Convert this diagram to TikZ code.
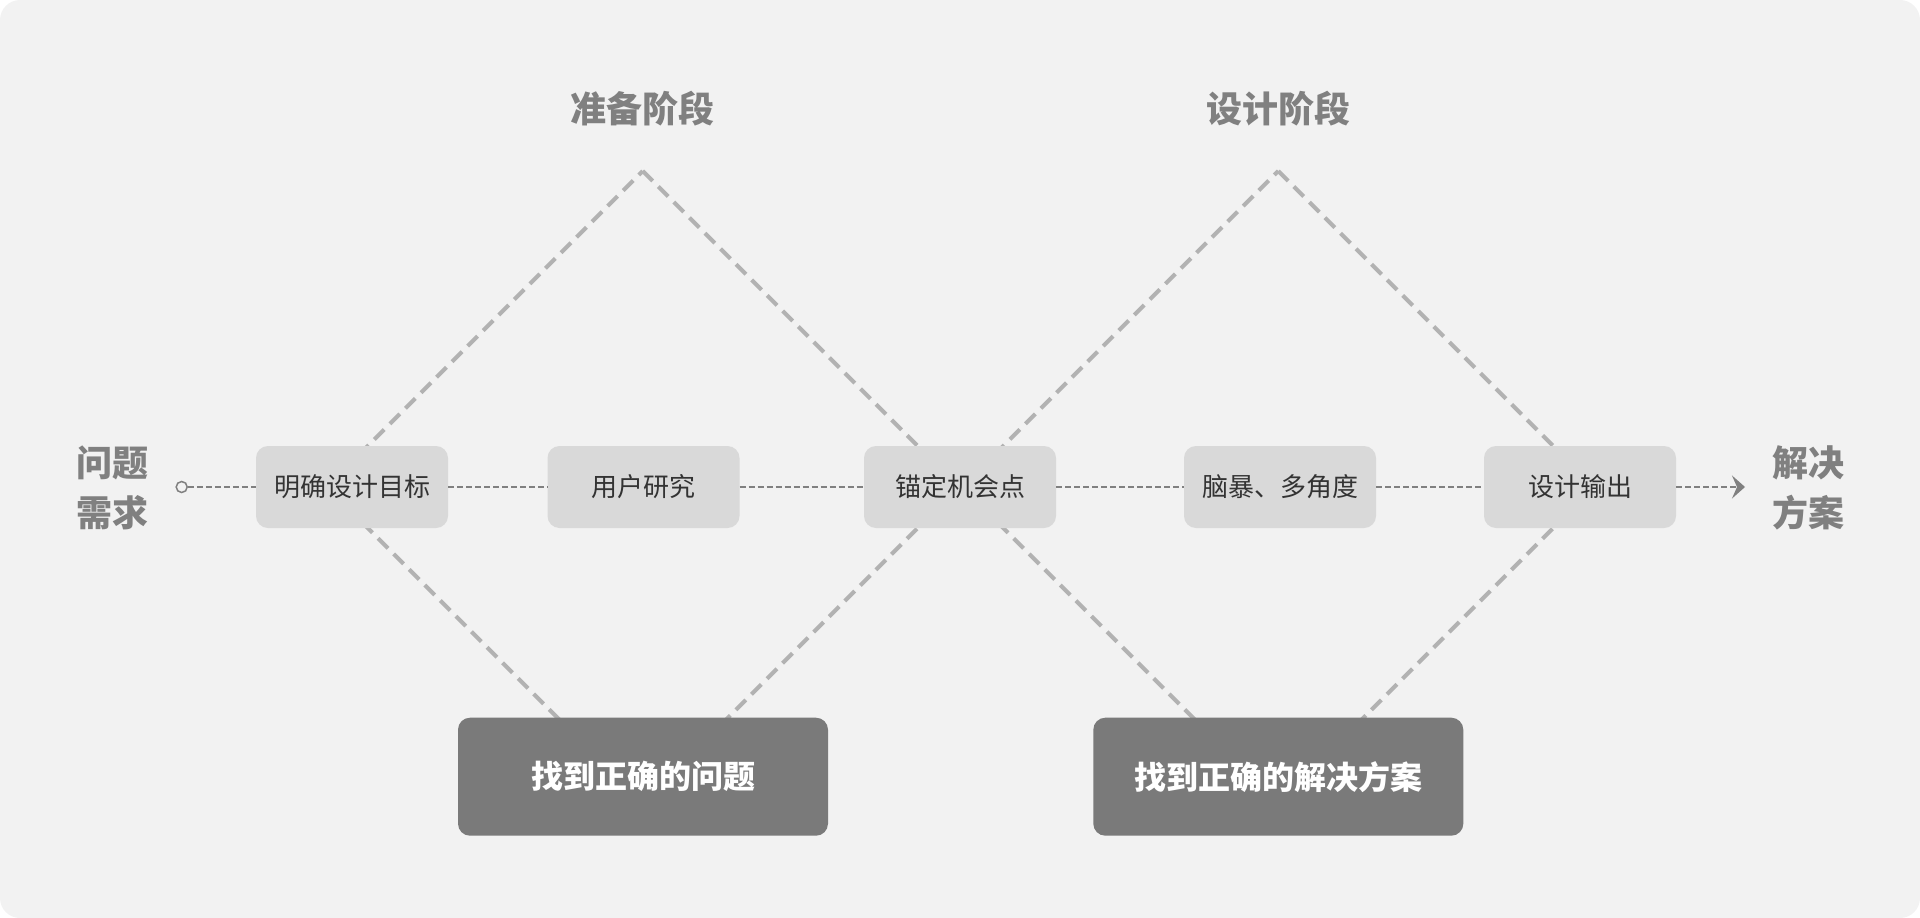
\documentclass[tikz,border=0pt]{standalone}
\usepackage{xcolor}
\usepackage{tikz}
\usepackage{fontspec}
\setmainfont{Noto Sans CJK SC}
\usetikzlibrary{arrows.meta, positioning}
\definecolor{bggray}{RGB}{242, 242, 242}
\definecolor{boxgray}{RGB}{217, 217, 217}
\definecolor{resultgray}{RGB}{122, 122, 122}
\definecolor{titlegray}{RGB}{128, 128, 128}
\definecolor{diamondgray}{RGB}{178, 178, 178}
\definecolor{textdark}{RGB}{51, 51, 51}

\begin{document}
\begin{tikzpicture}[x=1pt, y=-1pt,
    stagebox/.style={fill=boxgray, rounded corners=12pt, minimum width=192pt, minimum height=82pt, inner sep=0pt, text=textdark, font=\fontsize{26}{30}\selectfont},
    resultbox/.style={fill=resultgray, rounded corners=12pt, minimum width=370pt, minimum height=118pt, inner sep=0pt, text=white, font=\fontsize{32}{36}\selectfont\bfseries},
    phasetitle/.style={text=titlegray, font=\fontsize{36}{40}\selectfont\bfseries},
    endlabel/.style={text=titlegray, align=center, font=\fontsize{36}{50}\selectfont\bfseries},
    diamondline/.style={diamondgray, line width=4pt, dash pattern=on 14pt off 8pt},
    flowline/.style={titlegray, line width=1.8pt, dash pattern=on 6pt off 3pt}]
        % Background
        \useasboundingbox (0,0) rectangle (1920,918);
        \fill[bggray, rounded corners=20pt] (0,0) rectangle (1920,918);

        % Diamond corners
        \coordinate (prepTop) at (642.7,171);
        \coordinate (prepRight) at (958.7,487);
        \coordinate (prepBottom) at (642.7,803);
        \coordinate (prepLeft) at (326.7,487);
        \coordinate (designTop) at (1278.3,171);
        \coordinate (designRight) at (1594.3,487);
        \coordinate (designBottom) at (1278.3,803);
        \coordinate (designLeft) at (962.3,487);

        % Diamonds
        \draw[diamondline] (prepTop) -- (prepRight) -- (prepBottom) -- (prepLeft) -- cycle;
        \draw[diamondline] (designTop) -- (designRight) -- (designBottom) -- (designLeft) -- cycle;

        % Phase titles
        \node[phasetitle] (prep) at (642.7,109) {准备阶段};
        \node[phasetitle] (design) at (1278.3,109) {设计阶段};

        % Steps
        \node[stagebox] (goal) at (352,487) {明确设计目标};
        \node[stagebox] (research) at (643.5,487) {用户研究};
        \node[stagebox] (anchor) at (960,487) {锚定机会点};
        \node[stagebox] (brainstorm) at (1280,487) {脑暴、多角度};
        \node[stagebox] (output) at (1580,487) {设计输出};

        % Results
        \node[resultbox] (problem) at (643,776.7) {找到正确的问题};
        \node[resultbox] (solution) at (1278.3,776.7) {找到正确的解决方案};

        % Start and end
        \node[endlabel] (need) at (112,488) {问题\\需求};
        \node[endlabel] (answer) at (1808,488) {解决\\方案};
        \node[circle, draw=titlegray, fill=bggray, line width=1.5pt, inner sep=0pt, minimum size=11pt] (start) at (181.7,487) {};
        \coordinate (finish) at (1745,487);

        % Flow
        \draw[flowline] (start) -- (goal);
        \draw[flowline] (goal) -- (research);
        \draw[flowline] (research) -- (anchor);
        \draw[flowline] (anchor) -- (brainstorm);
        \draw[flowline] (brainstorm) -- (output);
        \draw[flowline, -{Stealth[length=13pt, width=23pt, inset=5pt]}] (output) -- (finish);
    \end{tikzpicture}
\end{document}
